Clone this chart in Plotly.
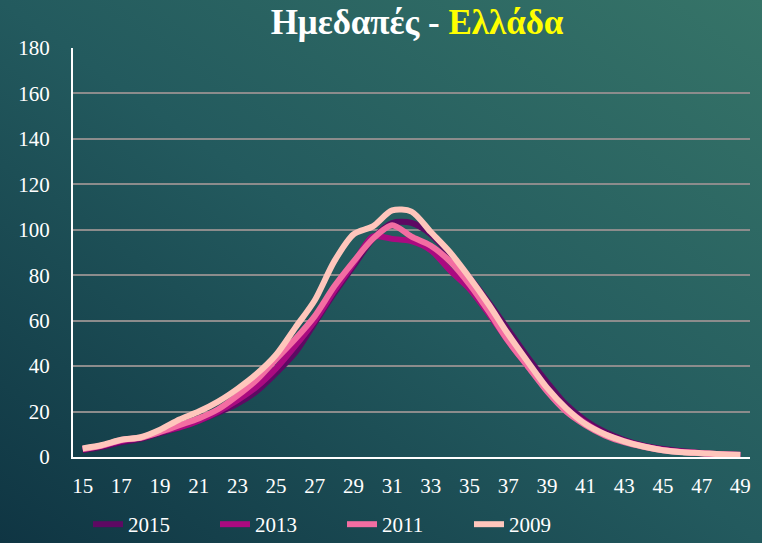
import base64
import plotly.graph_objects as go

ages = list(range(15, 50))

y2015 = [3, 4.5, 6.5, 8, 10.5, 13, 16, 19.5, 23.5, 29, 37, 46, 59, 72, 84, 96, 103, 103, 98, 89,
         79, 68, 56, 44, 33, 23, 16, 11, 7.5, 5, 3.5, 2.5, 1.8, 1.3, 1]
y2013 = [3.5, 5, 7, 8.5, 11, 13, 16, 20, 25, 31, 39, 49, 60, 73, 85, 97, 96, 95, 91, 82,
         74, 63, 51, 40, 30, 21, 15, 10, 7, 4.8, 3.2, 2.3, 1.7, 1.2, 0.9]
y2011 = [3.5, 5, 7.5, 8.5, 11, 14, 17, 21, 27, 34, 43, 52, 62, 75, 86, 96, 102, 97, 93, 86,
         76, 64, 51, 40, 29, 20, 14, 9.5, 6.5, 4.5, 3, 2.2, 1.6, 1.2, 0.9]
y2009 = [3.8, 5.3, 7.6, 8.7, 12, 16.5, 20, 24.4, 30, 36.6, 45, 57, 69, 86, 98, 101.5, 108.5, 108, 99, 90,
         79, 67, 54, 42, 30.5, 21.4, 14.5, 10, 6.9, 4.6, 3, 2.1, 1.7, 1.2, 1]

series = [("2015", y2015, "#5E0963"), ("2013", y2013, "#AA0A80"),
          ("2011", y2011, "#F36DA2"), ("2009", y2009, "#FFC6BC")]

SERIF = "Liberation Serif, Times New Roman, serif"

# diagonal teal gradient for the slide-like background
svg = """<svg xmlns='http://www.w3.org/2000/svg' width='762' height='543' preserveAspectRatio='none'>
<defs><linearGradient id='g' x1='0' y1='1' x2='1' y2='0'>
<stop offset='0' stop-color='#0f3543'/><stop offset='0.5' stop-color='#235a5e'/>
<stop offset='1' stop-color='#367468'/></linearGradient></defs>
<rect width='762' height='543' fill='url(#g)'/></svg>"""
bg = "data:image/svg+xml;base64," + base64.b64encode(svg.encode()).decode()

fig = go.Figure()
for name, vals, col in series:
    fig.add_trace(go.Scatter(
        x=ages, y=vals, name=name, mode="lines",
        line=dict(color=col, width=6, shape="spline", smoothing=0.8),
    ))

L, R, T, B = 73, 12, 48, 86
pw, ph = 762 - L - R, 543 - T - B

fig.update_layout(
    width=762, height=543,
    margin=dict(l=L, r=R, t=T, b=B, autoexpand=False),
    paper_bgcolor="#235a5e", plot_bgcolor="rgba(0,0,0,0)",
    font=dict(family=SERIF, size=21, color="white"),
    title=dict(text="<b>Ημεδαπές - <span style='color:#FFFF00'>Ελλάδα</span></b>",
               x=(417 - L) / pw, xref="paper", xanchor="center",
               y=1 - 22 / 543, yanchor="middle", font=dict(size=35, color="white")),
    legend=dict(orientation="h", x=15 / pw, xanchor="left", y=-0.115, yanchor="top",
                entrywidth=82, font=dict(size=21), bgcolor="rgba(0,0,0,0)"),
    images=[dict(source=bg, xref="paper", yref="paper", x=-L / pw, y=1 + T / ph,
                 sizex=762 / pw, sizey=543 / ph, sizing="stretch", layer="below")],
    showlegend=True,
)
fig.update_xaxes(range=[14.5, 49.5], tickvals=list(range(15, 50, 2)), showgrid=False,
                 showline=True, linecolor="white", linewidth=2, zeroline=False,
                 ticks="", ticklabelstandoff=9, automargin=False)
fig.update_yaxes(range=[0, 180], dtick=20, showgrid=True, gridcolor="#8c8c8c", gridwidth=2,
                 showline=True, linecolor="white", linewidth=2, zeroline=False,
                 ticks="", ticklabelstandoff=17, automargin=False)

# the page's default body margin would shift the figure by 8px
fig.write_html("out.html", config={"displayModeBar": False},
               post_script="document.body.style.margin='0';")
